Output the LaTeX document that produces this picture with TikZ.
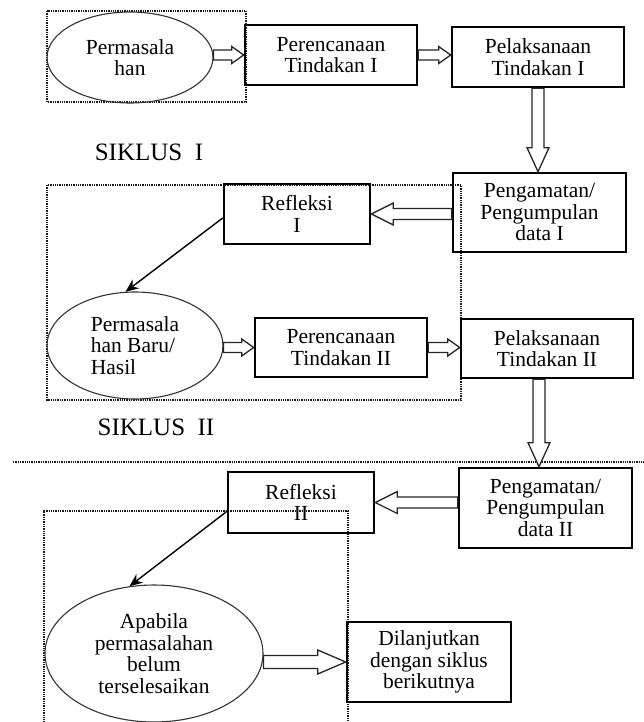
\documentclass[tikz,border=0pt]{standalone}
\usepackage{fontspec}
\setmainfont{Liberation Serif}
\usetikzlibrary{
		calc,
		positioning,
		arrows.meta,
		shapes.geometric
	}
\tikzset{
		>={Stealth[length=13pt,width=11pt]},
		kotak/.style={draw, line width=2.6pt, dash pattern=on 1.3pt off 0.9pt, preaction={draw, solid, line width=1.3pt}, align=center, inner sep=0pt, minimum width=172pt, minimum height=60pt, font=\fontsize{21.5}{21.5}\selectfont},
		elips/.style={draw=black!80, line width=1.1pt, ellipse, inner sep=0pt, align=center, font=\fontsize{21.5}{21.5}\selectfont},
		batas/.style={densely dotted, line width=1.3pt, black!90},
		panah/.style={draw=black!85, line width=1.3pt, fill=white, line join=miter},
		garis/.style={->, line width=1.4pt, black},
		siklus/.style={font=\fontsize{25}{25}\selectfont}
	}
% panah tebal berongga: dari, ke, setengah batang, setengah kepala, panjang kepala
\newcommand\panahbesar[5]{%
	\path (#1) coordinate (pb-a) (#2) coordinate (pb-b);
	\path ($(pb-b)!#5!(pb-a)$) coordinate (pb-h);
	\draw[panah] ($(pb-a)!#3!90:(pb-b)$) -- ($(pb-h)!#3!90:(pb-b)$) -- ($(pb-h)!#4!90:(pb-b)$) -- (pb-b) -- ($(pb-h)!#4!-90:(pb-b)$) -- ($(pb-h)!#3!-90:(pb-b)$) -- ($(pb-a)!#3!-90:(pb-b)$) -- cycle;
}
\begin{document}
\begin{tikzpicture}[x=1pt, y=-1pt]
	\useasboundingbox (0,0) rectangle (644,722);
	% batas siklus
	\draw[batas] (47,11) rectangle (246,102);
	\draw[batas] (47,185) rectangle (461,400);
	\draw[batas] (13,462) -- (644,462);
	\draw[batas] (44,725) -- (44,511) -- (348,511) -- (348,725);
	% siklus I
	\node[elips, minimum width=166pt, minimum height=91pt] (e1) at (130,57.5) {Permasala\\han};
	\node[kotak] (perI) at (331,55) {Perencanaan\\Tindakan I};
	\node[kotak] (pelI) at (538,57) {Pelaksanaan\\Tindakan I};
	\node[kotak, minimum width=173pt, minimum height=79pt] (pengI) at (539.5,212.5) {Pengamatan/\\Pengumpulan\\data I};
	\node[kotak, minimum width=146pt] (refI) at (297,214) {Refleksi\\I};
	\node[siklus] (sI) at (149,152) {SIKLUS~~I};
	% siklus II
	\node[elips, align=left, minimum width=176pt, minimum height=107pt] (e2) at (135,345.5) {Permasala\\han Baru/\\Hasil};
	\node[kotak, minimum height=59pt] (perII) at (341,347.5) {Perencanaan\\Tindakan II};
	\node[kotak, minimum height=59pt] (pelII) at (547,348.5) {Pelaksanaan\\Tindakan II};
	\node[siklus] (sII) at (156,427) {SIKLUS~~II};
	\node[kotak, minimum width=173pt, minimum height=80pt] (pengII) at (545.5,508) {Pengamatan/\\Pengumpulan\\data II};
	\node[kotak, minimum width=146pt, minimum height=61pt] (refII) at (301,502.5) {Refleksi\\II};
	% lanjutan
	\node[elips, minimum width=218pt, minimum height=137pt] (e3) at (154,653.5) {Apabila\\permasalahan\\belum\\terselesaikan};
	\node[kotak, minimum width=164pt, minimum height=80pt] (lanjut) at (429,662) {Dilanjutkan\\dengan siklus\\berikutnya};
	% panah
	\panahbesar{e1.east |- perI.west}{perI.west}{5pt}{8.5pt}{12pt}
	\panahbesar{perI.east}{perI.east -| pelI.west}{5pt}{8.5pt}{12pt}
	\panahbesar{pelI.south}{pelI.south |- pengI.north}{6pt}{11pt}{24pt}
	\panahbesar{pengI.west |- refI.east}{refI.east}{5.5pt}{11pt}{22pt}
	\draw[garis] ([yshift=-4pt]refI.west) -- (e2.100);
	\panahbesar{e2.east |- perII.west}{perII.west}{5pt}{8.5pt}{12pt}
	\panahbesar{perII.east}{perII.east -| pelII.west}{5pt}{8.5pt}{12pt}
	\panahbesar{[xshift=-8pt]pelII.south}{[xshift=-8pt]pelII.south |- pengII.north}{6pt}{11pt}{24pt}
	\panahbesar{pengII.west |- refII.east}{refII.east}{5.5pt}{11pt}{22pt}
	\draw[garis] ([yshift=-9pt]refII.west) -- (e3.110);
	\panahbesar{e3.east |- lanjut.west}{lanjut.west}{6.5pt}{12pt}{28pt}
\end{tikzpicture}
\end{document}
